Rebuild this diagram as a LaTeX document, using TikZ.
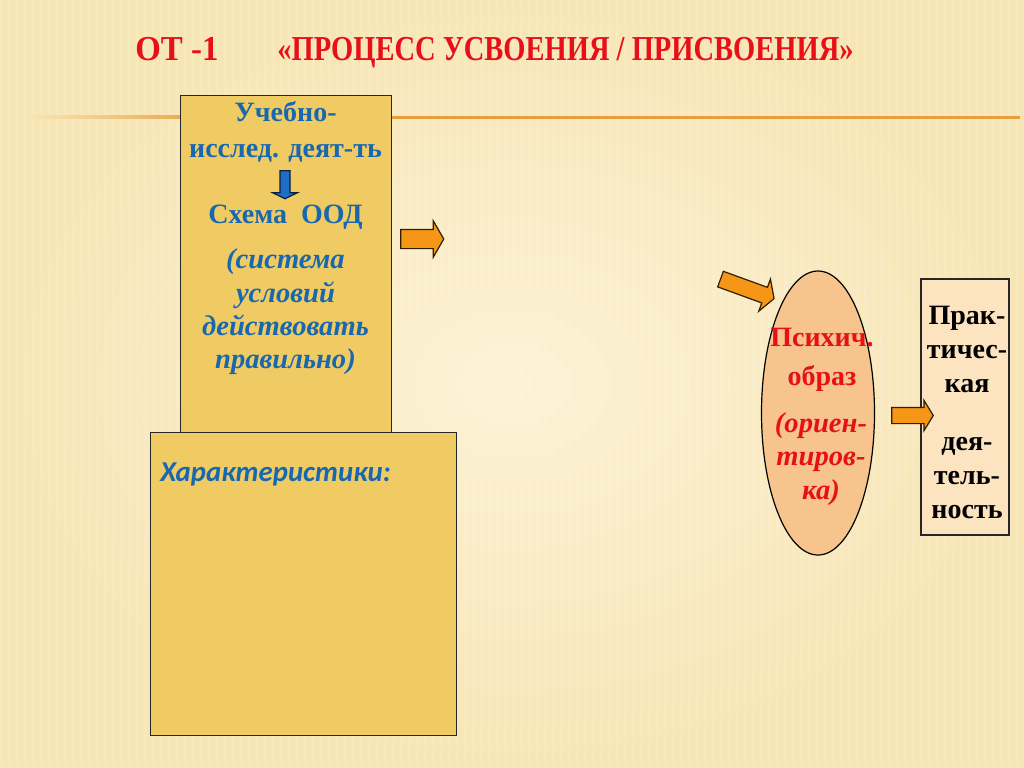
\documentclass[tikz,border=0pt]{standalone}
\usepackage{fontspec}
\setmainfont{Liberation Serif}
\newfontfamily\codefont[FakeStretch=0.94]{Liberation Serif}
\newfontfamily\titlefont[FakeStretch=0.815]{Liberation Serif}
\newfontfamily\calfont{Carlito}
\definecolor{Background}{RGB}{248,229,180}
\definecolor{BackgroundLight}{RGB}{253,242,212}
\definecolor{LineOrange}{RGB}{232,158,60}
\definecolor{BoxFill}{RGB}{240,202,98}
\definecolor{EllipseFill}{RGB}{246,196,140}
\definecolor{PracticeFill}{RGB}{252,228,192}
\definecolor{ArrowOrange}{RGB}{246,150,22}
\definecolor{ArrowBlue}{RGB}{30,110,200}
\definecolor{TextBlue}{RGB}{24,104,176}
\definecolor{TextRed}{RGB}{232,16,24}
\usetikzlibrary{shapes.geometric, shapes.arrows}
\tikzset{
    panel/.style={draw=black!85, line width=0.6pt, fill=BoxFill, inner sep=0pt, anchor=north west},
    flow arrow/.style={
        single arrow, draw=black!80!ArrowOrange, fill=ArrowOrange,
        line width=0.6pt, inner xsep=0pt, minimum width=0pt
    },
    blue text/.style={text=TextBlue, align=center, inner sep=0pt,
        font=\bfseries\fontsize{14}{18}\selectfont},
    red text/.style={text=TextRed, align=center, inner sep=0pt,
        font=\bfseries\fontsize{14}{19.5}\selectfont},
    black text/.style={text=black, align=center, inner sep=0pt,
        font=\bfseries\fontsize{14}{17}\selectfont}
}

\begin{document}
\begin{tikzpicture}[x=0.5pt, y=-0.5pt]

\useasboundingbox (0,0) rectangle (1024,767);

% Fondo y linea
\shade[inner color=BackgroundLight, outer color=Background] (0,0) rectangle (1024,767);
\foreach \x in {0,8,...,1016} {
    \fill[white, opacity=0.12] (\x,0) rectangle (\x+3,767);
}
\shade[left color=Background, right color=LineOrange] (30,115.5) rectangle (220,118.5);
\fill[LineOrange] (220,115.5) rectangle (1020,118.5);

% Titulo
\node[anchor=base west, inner sep=0pt, text=TextRed,
      font=\codefont\bfseries\fontsize{17.5}{20}\selectfont] (code) at (135,60) {ОТ -1};
\node[anchor=base west, inner sep=0pt, text=TextRed,
      font=\titlefont\bfseries\fontsize{17.5}{20}\selectfont] (title) at (277,60)
      {«ПРОЦЕСС УСВОЕНИЯ / ПРИСВОЕНИЯ»};

% Cajas
\node[panel, minimum width=105.5pt, minimum height=168.5pt] (study) at (180,95) {};
\node[panel, minimum width=153pt, minimum height=151.5pt] (features) at (150,432) {};

% Textos de la primera caja
\node[blue text] (activity) at (285.5,132) {Учебно-\\исслед. деят-ть};
\node[single arrow, draw=black!70!ArrowBlue, fill=ArrowBlue, line width=0.6pt,
      inner xsep=0pt, inner ysep=2.2pt, minimum width=0pt, minimum height=14pt,
      single arrow head extend=3.6pt, single arrow tip angle=128, rotate=-90]
      (down) at (285,183.5) {};
\node[blue text] (scheme) at (285.5,217) {Схема\ \ ООД};
\node[blue text, font=\bfseries\itshape\fontsize{14.3}{16.7}\selectfont]
      (conditions) at (285.5,312) {(система\\условий\\действовать\\правильно)};

\node[anchor=base west, inner sep=0pt, text=TextBlue,
      font=\calfont\bfseries\itshape\fontsize{14.4}{18}\selectfont] (featurestext) at (160,481)
      {Характеристики:};

% Actividad practica
\node[draw=black!85, line width=0.6pt, fill=PracticeFill, inner sep=0pt,
      minimum width=44pt, minimum height=128pt] (practice) at (965,407) {};
\node[black text] (prac1) at (967,349) {Прак-\\тичес-\\кая};
\node[black text] (prac2) at (967,478) {дея-\\тель-\\ность};

% Flechas naranjas
\node[flow arrow, minimum height=21.5pt, inner ysep=4.5pt,
      single arrow head extend=4.25pt, single arrow tip angle=120] (arrow1) at (419.5,239) {};
\node[flow arrow, minimum height=28.5pt, inner ysep=3.85pt,
      single arrow head extend=4.4pt, single arrow tip angle=119, rotate=-20] (arrow2) at (745,288) {};
\node[flow arrow, minimum height=20.8pt, inner ysep=3.75pt,
      single arrow head extend=3.6pt, single arrow tip angle=117] (arrow3) at (910,415.5) {};

% Imagen psiquica
\node[ellipse, draw=black, line width=0.6pt, fill=EllipseFill, inner sep=0pt,
      minimum width=56.5pt, minimum height=142pt] (image) at (818,413) {};
\node[red text] (psych) at (822,360) {Психич.\\образ};
\node[red text, font=\bfseries\itshape\fontsize{14.3}{16.75}\selectfont]
      (orient) at (821,459) {(ориен-\\тиров-\\ка)};

\end{tikzpicture}
\end{document}
